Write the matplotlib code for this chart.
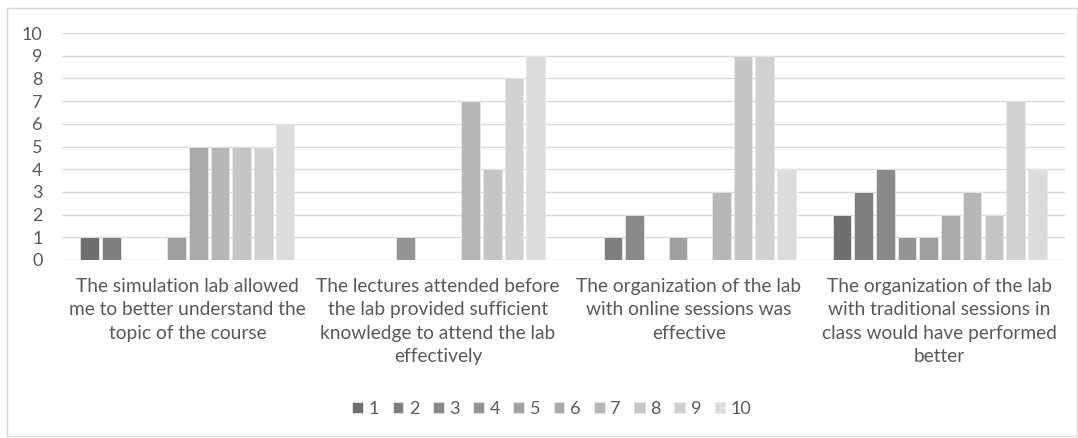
import matplotlib
matplotlib.use("Agg")
import matplotlib.pyplot as plt
from matplotlib.patches import Rectangle
import numpy as np

plt.rcParams["font.family"] = ["Lato", "DejaVu Sans"]

categories = [
    "The simulation lab allowed\nme to better understand the\ntopic of the course",
    "The lectures attended before\nthe lab provided sufficient\nknowledge to attend the lab\neffectively",
    "The organization of the lab\nwith online sessions was\neffective",
    "The organization of the lab\nwith traditional sessions in\nclass would have performed\nbetter",
]
series_names = ["1", "2", "3", "4", "5", "6", "7", "8", "9", "10"]
# counts per score (rows = score 1..10, columns = statements)
score_1 = [1, 0, 0, 2]
score_2 = [1, 0, 1, 3]
score_3 = [0, 0, 2, 4]
score_4 = [0, 1, 0, 1]
score_5 = [1, 0, 1, 1]
score_6 = [5, 0, 0, 2]
score_7 = [5, 7, 3, 3]
score_8 = [5, 4, 9, 2]
score_9 = [5, 8, 9, 7]
score_10 = [6, 9, 4, 4]
values = [score_1, score_2, score_3, score_4, score_5,
          score_6, score_7, score_8, score_9, score_10]

colors = ["#6f6f6f", "#7e7e7e", "#898989", "#949494", "#9f9f9f",
          "#aaaaaa", "#b7b7b7", "#c5c5c5", "#d0d0d0", "#dcdcdc"]
TEXT = "#595959"

fig = plt.figure(figsize=(10.78, 4.38), dpi=100)
fig.patch.set_facecolor("white")
fig.add_artist(Rectangle((7 / 1078, 2 / 438), 1 - 8 / 1078, 1 - 10 / 438,
                         transform=fig.transFigure, fill=False,
                         edgecolor="#d9d9d9", linewidth=1))

ax = fig.add_axes([62 / 1078, 1 - 260 / 438, 1003 / 1078, 227 / 438])

x = np.arange(len(categories))
slot = 0.865 / len(series_names)
for j, (name, vals) in enumerate(zip(series_names, values)):
    ax.bar(x + (j - 4.5) * slot, vals, width=slot * 0.86, color=colors[j],
           edgecolor="#e6e6e6", linewidth=0.6, label=name, zorder=3)

ax.set_xlim(-0.5, 3.5)
ax.set_ylim(0, 10)
ax.set_yticks(range(0, 11))
ax.yaxis.grid(True, color="#d9d9d9", linewidth=1.0, zorder=0)
ax.set_axisbelow(True)
for s in ax.spines.values():
    s.set_visible(False)
ax.tick_params(axis="both", length=0, colors=TEXT, labelsize=13)
ax.tick_params(axis="y", pad=14)
ax.set_xticks(x)
ax.set_xticklabels(categories, fontsize=13.8, color=TEXT, linespacing=1.45)
ax.tick_params(axis="x", pad=13)

handles, labels = ax.get_legend_handles_labels()
fig.legend(handles, labels, loc="center", bbox_to_anchor=(552 / 1078, 1 - 409 / 438),
           ncol=10, frameon=False, handlelength=0.6, handleheight=0.6,
           handletextpad=0.3, columnspacing=0.75, fontsize=13,
           labelcolor=TEXT)

fig.savefig("out.png", dpi=100, facecolor="white")
